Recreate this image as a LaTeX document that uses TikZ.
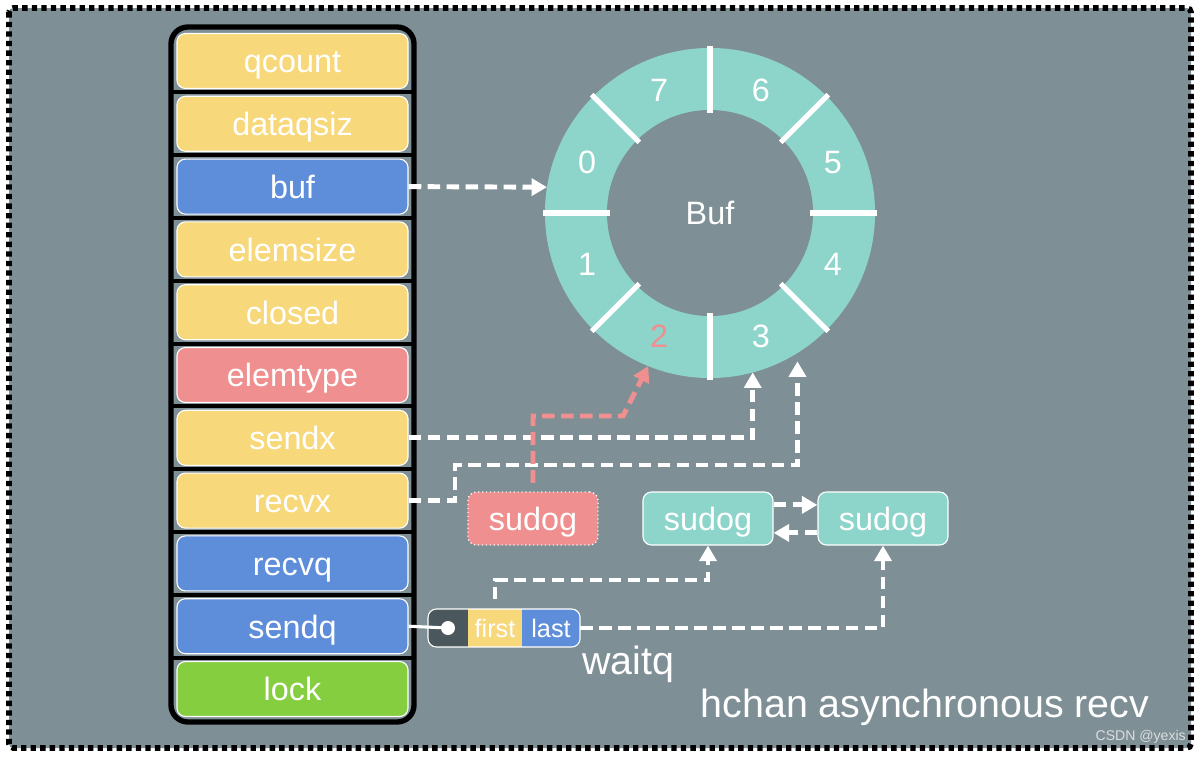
\documentclass[tikz,border=0pt]{standalone}
\usepackage{fontspec}
\setmainfont{Liberation Sans}
\usetikzlibrary{arrows.meta,positioning}
\definecolor{PanelGray}{RGB}{127,143,150}
\definecolor{FieldYellow}{RGB}{247,216,122}
\definecolor{FieldBlue}{RGB}{94,142,218}
\definecolor{FieldPink}{RGB}{239,143,143}
\definecolor{FieldGreen}{RGB}{132,206,64}
\definecolor{SlotTeal}{RGB}{141,213,203}
\definecolor{HeadDark}{RGB}{74,87,92}
\definecolor{MarkGray}{RGB}{218,221,223}
\tikzset{
  >=Triangle,
  panel/.style={fill=PanelGray,draw=black,line width=4pt,dash pattern=on 3.8pt off 3pt,rounded corners=3pt},
  stackframe/.style={draw=black,line width=3.8pt,rounded corners=12pt},
  rowsep/.style={draw=black,line width=2.8pt},
  field/.style={draw=white,line width=.8pt,rounded corners=6pt,text=white,font=\fontsize{23}{26}\selectfont,minimum width=5.775cm,minimum height=1.375cm,inner sep=0pt,text height=17pt,text depth=0pt},
  fieldY/.style={field,fill=FieldYellow},
  fieldB/.style={field,fill=FieldBlue},
  fieldP/.style={field,fill=FieldPink},
  fieldG/.style={field,fill=FieldGreen},
  ringslots/.style={circle,fill=SlotTeal,minimum size=8.25cm,inner sep=0pt,outer sep=0pt},
  hub/.style={circle,fill=PanelGray,minimum size=5.15cm,inner sep=0pt,text=white,font=\fontsize{23}{26}\selectfont},
  slotsep/.style={draw=white,line width=3.6pt},
  slotnum/.style={text=white,font=\fontsize{23}{26}\selectfont,inner sep=0pt},
  sudog/.style={draw=white,line width=.8pt,rounded corners=6pt,fill=SlotTeal,text=white,font=\fontsize{23}{26}\selectfont,minimum width=3.25cm,minimum height=1.325cm,inner sep=0pt,text height=17pt,text depth=0pt},
  sudogGone/.style={sudog,fill=FieldPink,dotted,line width=1pt},
  wqcell/.style={minimum height=.95cm,inner sep=0pt,outer sep=0pt,text=white,font=\fontsize{18}{20}\selectfont,text height=13pt,text depth=0pt},
  ptr/.style={-{Triangle[length=11pt,width=12pt]},line width=3.5pt,draw=white,dash pattern=on 9pt off 4.5pt},
  pinkptr/.style={ptr,draw=FieldPink,-{Triangle[length=11pt,width=12pt,fill=FieldPink]}},
  caption/.style={text=white,font=\fontsize{28}{32}\selectfont,inner sep=0pt}
}
\begin{document}
\begin{tikzpicture}[x=0.025cm,y=-0.025cm]
  \useasboundingbox (0,0) rectangle (1200,756);
  \draw[panel] (9,8) rectangle (1191,748);

  % hchan fields
  \foreach \y in {92.4,155.2,218,280.8,343.6,406.4,469.2,532,594.8,657.6}
    \draw[rowsep] (171,\y) -- (414,\y);
  \draw[stackframe] (171,27) rectangle (414,722);
  \node[fieldY] (qcount) at (292.5,61) {qcount};
  \node[fieldY] (dataqsiz) at (292.5,123.8) {dataqsiz};
  \node[fieldB] (buf) at (292.5,186.6) {buf};
  \node[fieldY] (elemsize) at (292.5,249.4) {elemsize};
  \node[fieldY] (closed) at (292.5,312.2) {closed};
  \node[fieldP] (elemtype) at (292.5,375) {elemtype};
  \node[fieldY] (sendx) at (292.5,437.8) {sendx};
  \node[fieldY] (recvx) at (292.5,500.6) {recvx};
  \node[fieldB] (recvq) at (292.5,563.4) {recvq};
  \node[fieldB] (sendq) at (292.5,626.2) {sendq};
  \node[fieldG] (lock) at (292.5,689) {lock};

  % ring buffer
  \node[ringslots] (ring) at (710,213) {};
  \node[hub] (hub) at (ring) {Buf};
  \foreach \a in {0,45,...,315}
    \draw[slotsep] ([shift={(\a:2.5cm)}]ring.center) -- ([shift={(\a:4.18cm)}]ring.center);
  \foreach \n/\a in {0/157.5,7/112.5,6/67.5,5/22.5,4/-22.5,3/-67.5,1/-157.5}
    \node[slotnum] (slot\n) at ([shift={(\a:3.325cm)}]ring.center) {\n};
  \node[slotnum,text=FieldPink] (slot2) at ([shift={(-112.5:3.325cm)}]ring.center) {2};

  % sudogs
  \node[sudogGone] (sudogA) at (533,518.5) {sudog};
  \node[sudog] (sudogB) at (708,518.5) {sudog};
  \node[sudog] (sudogC) at (883,518.5) {sudog};

  % waitq
  \begin{scope}
    \clip[rounded corners=6pt] (428,609) rectangle (580,647);
    \node[wqcell,fill=HeadDark,minimum width=1cm] (wqhead) at (448,628) {};
    \node[wqcell,fill=FieldYellow,minimum width=1.35cm,right=0pt of wqhead] (first) {first};
    \node[wqcell,fill=FieldBlue,minimum width=1.45cm,right=0pt of first] (last) {last};
  \end{scope}
  \draw[white,line width=.8pt,rounded corners=6pt] (wqhead.south west) rectangle (last.north east);
  \draw[white,line width=2.2pt] (sendq.east) -- (wqhead.center);
  \node[circle,fill=white,minimum size=.35cm,inner sep=0pt] (wqdot) at (wqhead) {};

  % pointers
  \coordinate (recvbend) at (455,465);
  \coordinate (pinkbend) at (623,416);
  \draw[ptr] (buf.east) -- (ring.171);
  \draw[ptr] (sendx.east) -| (ring.-75);
  \draw[ptr,shorten >=6pt] (recvx.east) -| (recvbend) -| (ring.-58);
  \draw[pinkptr,shorten <=6pt] (sudogA.north) |- (pinkbend) -- (ring.-112);
  \draw[ptr] ([yshift=.34cm]sudogB.east) -- ([yshift=.34cm]sudogC.west);
  \draw[ptr] ([yshift=-.36cm]sudogC.west) -- ([yshift=-.36cm]sudogB.east);
  \draw[ptr,shorten <=7pt] (first.north) -- ++(0,-29) -| (sudogB.south);
  \draw[ptr] (last.east) -| (sudogC.south);

  \node[caption,anchor=base west] (waitqlabel) at (582,674) {waitq};
  \node[caption,anchor=base] (title) at (925,717) {hchan asynchronous recv};
  \node[text=MarkGray,font=\fontsize{10}{11}\selectfont,inner sep=0pt,anchor=base east] (mark) at (1186,740) {CSDN @yexis};
\end{tikzpicture}
\end{document}
